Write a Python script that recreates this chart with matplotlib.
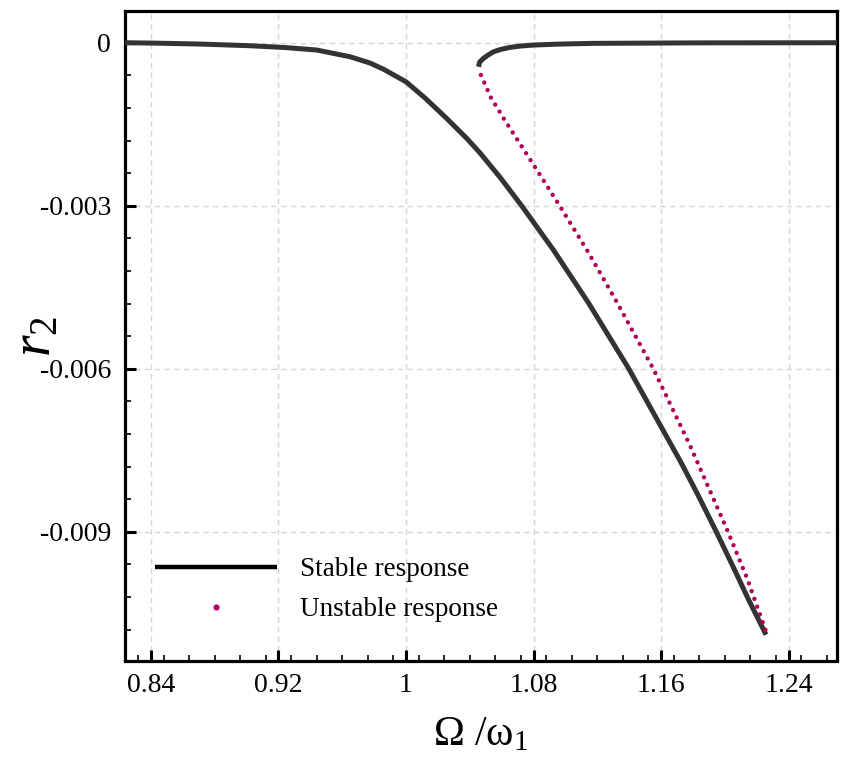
import matplotlib
matplotlib.use("Agg")
import matplotlib.pyplot as plt
from matplotlib.lines import Line2D
from matplotlib.ticker import MultipleLocator, FixedLocator

plt.rcParams['font.family'] = ['Liberation Serif', 'DejaVu Serif']
plt.rcParams['mathtext.fontset'] = 'custom'
plt.rcParams['mathtext.rm'] = 'Liberation Serif'
plt.rcParams['mathtext.it'] = 'Liberation Serif:italic'

# ---- data ----
# lower stable branch
stable_low_x = [0.8238, 0.84, 0.8709, 0.9022, 0.9242, 0.9441, 0.9650, 0.9775, 0.9857,
                1.0, 1.0120, 1.0256, 1.0382, 1.0465, 1.0591, 1.0727, 1.0925, 1.1145,
                1.1396, 1.1594, 1.1720, 1.1825, 1.1946, 1.2054, 1.2148, 1.2258]
stable_low_y = [0.0, -0.0000055, -0.000024, -0.000055, -0.000088, -0.000134, -0.000258,
                -0.000374, -0.000484, -0.000718, -0.001018, -0.001395, -0.001763,
                -0.002030, -0.002481, -0.003006, -0.003815, -0.004791, -0.005993,
                -0.007036, -0.007699, -0.008288, -0.009, -0.009659, -0.010248, -0.010895]
# upper stable branch
stable_up_x = [1.0455, 1.0462, 1.0486, 1.0515, 1.0549, 1.0591, 1.0653, 1.0716, 1.08,
               1.0967, 1.1176, 1.1845, 1.2705]
stable_up_y = [-0.000442, -0.000355, -0.000287, -0.000226, -0.000166, -0.000125,
               -0.000085, -0.000061, -0.000042, -0.000024, -0.000011, -0.000002, 0.0]
# unstable branch
unstable_x = [1.0470, 1.0532, 1.0614, 1.0727, 1.0840, 1.0965, 1.1145, 1.1329,
              1.1552, 1.1783, 1.2019, 1.2138, 1.2264]
unstable_y = [-0.000594, -0.001005, -0.001399, -0.001914, -0.002429,
              -0.003006, -0.003865, -0.004809, -0.006006, -0.007423, -0.009,
              -0.009847, -0.010888]

xticks = [0.84, 0.92, 1.0, 1.08, 1.16, 1.24]
xticklabels = ['0.84', '0.92', '1', '1.08', '1.16', '1.24']
yticks = [0.0, -0.003, -0.006, -0.009]
yticklabels = ['0', '-0.003', '-0.006', '-0.009']

stable_color = '#333333'
unstable_color = '#b0005a'

fig = plt.figure(figsize=(8.43, 7.59), dpi=100)
ax = fig.add_axes([125/843, (759-660.5)/759, (837-125)/843, (660.5-10.7)/759])

ax.plot(stable_low_x, stable_low_y, color=stable_color, lw=3.6,
        solid_capstyle='butt', solid_joinstyle='round', zorder=3)
ax.plot(stable_up_x, stable_up_y, color=stable_color, lw=3.6,
        solid_capstyle='butt', solid_joinstyle='round', zorder=3)
ax.plot(unstable_x, unstable_y, color=unstable_color, lw=3.2,
        linestyle=(0, (0.001, 1.85)), dash_capstyle='round', zorder=4)

ax.set_xlim(0.8238, 1.2703)
ax.set_ylim(-0.01137, 0.00059)

ax.xaxis.set_major_locator(FixedLocator(xticks))
ax.set_xticklabels(xticklabels)
ax.xaxis.set_minor_locator(MultipleLocator(0.016))
ax.yaxis.set_major_locator(FixedLocator(yticks))
ax.set_yticklabels(yticklabels)
ax.yaxis.set_minor_locator(MultipleLocator(0.0006))

ax.tick_params(which='major', direction='in', length=8, width=2.2,
               labelsize=20, pad=9, colors='black')
ax.tick_params(which='minor', direction='in', length=4.5, width=1.2)
ax.tick_params(axis='y', which='major', pad=10)

for s in ax.spines.values():
    s.set_linewidth(2.3)

ax.grid(True, which='major', color='#d6d6d6', linestyle=(0, (4, 3)), linewidth=1.0)
ax.set_axisbelow(True)

ax.set_xlabel('Ω /ω$_1$', fontsize=30, labelpad=13)
ax.set_ylabel('$r_2$', fontsize=40)
ax.yaxis.set_label_coords(-0.088, 0.498)

handles = [Line2D([], [], color='black', lw=3.2, solid_capstyle='butt'),
           Line2D([], [], color=unstable_color, marker='o', markersize=3.4,
                  linestyle='none')]
ax.legend(handles, ['Stable response', 'Unstable response'], loc='upper left',
          bbox_to_anchor=(0.023, 0.180), frameon=False, fontsize=19.5,
          handlelength=4.5, handletextpad=0.85, labelspacing=0.56, borderpad=0)

fig.savefig('out.png', dpi=100)
